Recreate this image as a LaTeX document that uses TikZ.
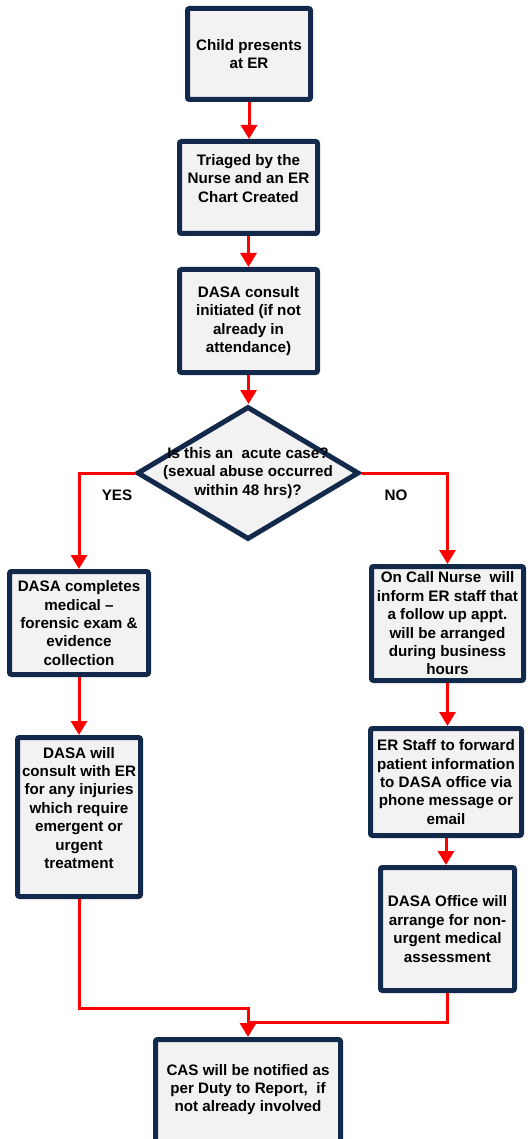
\documentclass[tikz,border=0pt]{standalone}
\usepackage{fontspec}
\setmainfont{Liberation Sans}
\usetikzlibrary{shapes.geometric,arrows.meta}
\definecolor{navy}{HTML}{13294B}
\definecolor{boxfill}{HTML}{F2F2F2}
\definecolor{flowred}{HTML}{FF0000}
\tikzset{
  txt/.style={font=\bfseries\fontsize{15.2}{18.4}\selectfont, align=center, text=black},
  stepbox/.style={txt, draw=navy, line width=5pt, fill=boxfill, rounded corners=2pt, inner sep=0pt},
  decisionshape/.style={shape=diamond, draw=navy, line width=5pt, fill=boxfill, inner sep=0pt},
  flow/.style={draw=flowred, line width=3pt},
  flowarrow/.style={flow, -{Triangle[width=16pt,length=14pt]}},
}
\begin{document}
\begin{tikzpicture}[x=1pt,y=-1pt]
\useasboundingbox (0,0) rectangle (527,1139);
% boxes
\node[stepbox, minimum width=123pt, minimum height=91pt] (b1) at (249,54) {Child presents\\at ER};
\node[stepbox, minimum width=138pt, minimum height=92pt] (b2) at (248.5,187.5) {Triaged by the\\Nurse and an ER\\Chart Created\\\mbox{}};
\node[stepbox, minimum width=138pt, minimum height=103pt] (b3) at (248.5,321) {DASA consult\\initiated (if not\\already in\\attendance)};
\node[decisionshape, minimum width=222pt, minimum height=133pt] (d) at (248,473) {};
\node[txt] (dt) at (248,473) {Is this an\ \ acute case?\\(sexual abuse occurred\\within 48 hrs)?};
\node[stepbox, minimum width=139pt, minimum height=103pt] (b4) at (79,623) {DASA completes\\medical --\\forensic exam \&\\evidence\\collection};
\node[stepbox, minimum width=152pt, minimum height=114pt] (b5) at (447.5,623.5) {On Call Nurse\ \ will\\inform ER staff that\\a follow up appt.\\will be arranged\\during business\\hours};
\node[stepbox, minimum width=123pt, minimum height=159pt] (b6) at (79,817) {DASA will\\consult with ER\\for any injuries\\which require\\emergent or\\urgent\\treatment\\\mbox{}};
\node[stepbox, minimum width=151pt, minimum height=107pt] (b7) at (446,782) {ER Staff to forward\\patient information\\to DASA office via\\phone message or\\email};
\node[stepbox, minimum width=134pt, minimum height=123pt] (b8) at (447.5,929) {DASA Office will\\arrange for non-\\urgent medical\\assessment};
\node[stepbox, minimum width=185pt, minimum height=103pt] (b9) at (248,1091) {CAS will be notified as\\per Duty to Report,\ \ if\\not already involved\\[-12.4pt]\mbox{}};
% labels
\node[txt] (yes) at (117,495) {YES};
\node[txt] (no) at (396,495) {NO};
% junctions
\coordinate (j1) at (248,1008);
\coordinate (j2) at (248,1022);
% connectors
\draw[flowarrow] (b1.south) -- (b1.south |- b2.north);
\draw[flowarrow] (b2.south) -- (b2.south |- b3.north);
\draw[flowarrow] (b3.south) -- (b3.south |- d.north);
\draw[flowarrow] (d.west) -| (b4.north);
\draw[flowarrow] (d.east) -| (b5.north);
\draw[flowarrow] (b4.south) -- (b6.north);
\draw[flowarrow] (b5.south) -- (b5.south |- b7.north);
\draw[flowarrow] (b7.south) -- (b7.south |- b8.north);
\draw[flow] (b8.south) |- (j2);
\draw[flowarrow] (b6.south) |- (j1) -- (b9.north);
\end{tikzpicture}
\end{document}
